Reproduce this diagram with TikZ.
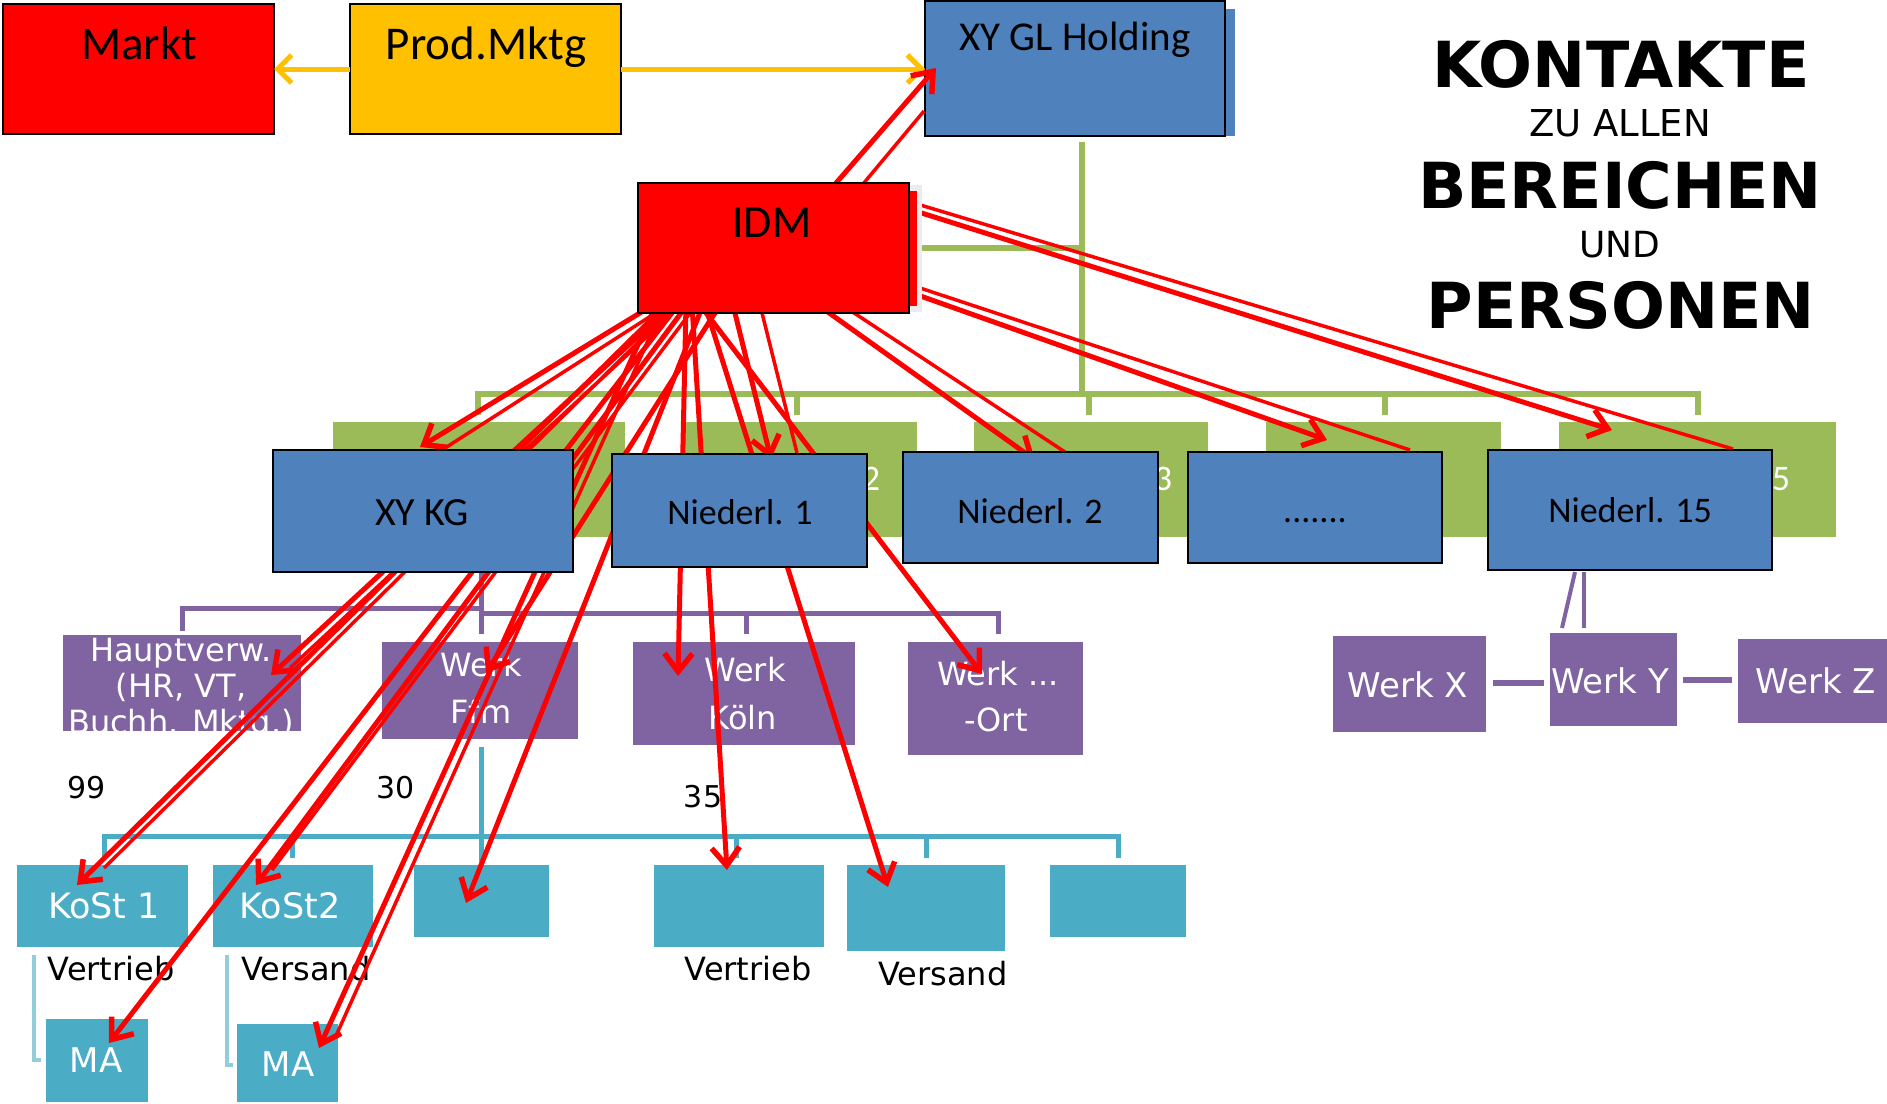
\documentclass[tikz,border=0pt]{standalone}
\usepackage{fontspec}
\setmainfont{Carlito}
\newfontfamily\dvs{DejaVu Sans}
\usetikzlibrary{arrows.meta}
\definecolor{dblue}{HTML}{4F81BD}
\definecolor{dgreen}{HTML}{9BBB59}
\definecolor{dpurple}{HTML}{8064A2}
\definecolor{dteal}{HTML}{4BACC6}
\definecolor{lteal}{HTML}{92CDDC}
\definecolor{dyellow}{HTML}{FFC000}
\newcommand\myfs[1]{\fontsize{#1}{#1}\selectfont}
\tikzset{
  bluebox/.style={draw=black, line width=2pt, fill=dblue, inner sep=0pt, outer sep=0pt},
  redbox/.style={draw=black, line width=2pt, fill=red, inner sep=0pt, outer sep=0pt},
  ybox/.style={draw=black, line width=2pt, fill=dyellow, inner sep=0pt, outer sep=0pt},
  gbox/.style={fill=dgreen, inner sep=0pt, outer sep=0pt},
  pbox/.style={fill=dpurple, inner sep=0pt, outer sep=0pt},
  tbox/.style={fill=dteal, inner sep=0pt, outer sep=0pt},
  lbl/.style={anchor=base, inner sep=0pt, outer sep=0pt},
  btxt/.style={lbl, font=\myfs{36}},
  wtxt/.style={lbl, text=white, font=\dvs\myfs{32}},
  ktxt/.style={lbl, text=black, font=\dvs\myfs{32}},
  ttl/.style={lbl, font=\dvs\bfseries\myfs{63.5}},
  tts/.style={lbl, font=\dvs\myfs{37}},
  gline/.style={draw=dgreen, line width=6pt},
  pline/.style={draw=dpurple, line width=5pt},
  tline/.style={draw=dteal, line width=5pt},
  ltline/.style={draw=lteal, line width=4pt},
  yarrow/.style={draw=dyellow, line width=5pt, -{Straight Barb[length=14pt,width=28pt,line width=5pt]}},
  redarrow/.style={draw=red, line width=5pt, -{Straight Barb[length=18pt,width=28pt,line width=5.5pt]}},
  redshadow/.style={draw=red, line width=3.5pt},
}
\begin{document}
\begin{tikzpicture}[x=1pt,y=-1pt]
\useasboundingbox (0,0) rectangle (1887,1103);
\fill[white] (0,0) rectangle (1887,1103);

% ---------- green structure ----------
\coordinate (gtop) at (1082,142);
\coordinate (gbusr) at (1082,394);
\coordinate (gidm) at (922,248);
\coordinate (gmid) at (1082,248);
\draw[gline] (gtop) -- (gbusr);
\draw[gline] (gidm) -- (gmid);
\coordinate (gb1) at (478,415);
\coordinate (gb5) at (1698,415);
\draw[gline] (gb1) |- (gbusr) -| (gb5);
\foreach \gx in {797,1089,1385}{\draw[gline] (\gx,394) -- (\gx,415);}

\node[gbox, minimum width=292, minimum height=115] (g1) at (479,479.5) {};
\node[gbox, minimum width=234, minimum height=115] (g2) at (800,479.5) {};
\node[gbox, minimum width=234, minimum height=115] (g3) at (1091,479.5) {};
\node[gbox, minimum width=235, minimum height=115] (g4) at (1383.5,479.5) {};
\node[gbox, minimum width=277, minimum height=115] (g5) at (1697.5,479.5) {};
\node[lbl, anchor=base east, text=white, font=\myfs{36}] (g2t) at (880,490) {2};
\node[lbl, anchor=base east, text=white, font=\myfs{36}] (g3t) at (1172,490) {3};
\node[lbl, anchor=base east, text=white, font=\myfs{36}] (g5t) at (1790,490) {5};

% ---------- purple structure ----------
\coordinate (pk) at (481,572);
\draw[pline] (182,631) -- (182,608) -- (481,608);
\draw[pline] (pk) -- (481,634);
\draw[pline] (481,613) -- (998,613) -- (998,634);
\draw[pline] (746,613) -- (746,634);

\node[pbox, minimum width=238, minimum height=96] (hv) at (182,683) {};
\begin{scope}
\clip (63,635) rectangle (301,731);
\node[wtxt] (hv1) at (181,661) {Hauptverw.};
\node[wtxt] (hv2) at (181,697) {(HR, VT,};
\node[wtxt] (hv3) at (181,733) {Buchh. Mktg.)};
\end{scope}
\node[pbox, minimum width=196, minimum height=97] (ffm) at (480,690.5) {};
\node[wtxt] (ffm1) at (481,676) {Werk};
\node[wtxt] (ffm2) at (481,723) {Ffm};
\node[pbox, minimum width=222, minimum height=103] (koeln) at (744,693.5) {};
\node[wtxt] (koeln1) at (745,681) {Werk};
\node[wtxt] (koeln2) at (743,729) {Köln};
\node[pbox, minimum width=175, minimum height=113] (ort) at (995.5,698.5) {};
\node[wtxt] (ort1) at (998,685) {Werk ...};
\node[wtxt] (ort2) at (996,731) {-Ort};

% right purple group
\node[pbox, minimum width=153, minimum height=96] (wx) at (1409.5,684) {};
\node[pbox, minimum width=127, minimum height=93] (wy) at (1613.5,679.5) {};
\node[pbox, minimum width=149, minimum height=84] (wz) at (1812.5,681) {};
\node[wtxt, font=\dvs\myfs{34}] (wxt) at (1408,697) {Werk X};
\node[wtxt, font=\dvs\myfs{34}] (wyt) at (1610,693) {Werk Y};
\node[wtxt, font=\dvs\myfs{34}] (wzt) at (1816,693) {Werk Z};
\draw[pline, line width=6pt] (1493,683) -- (1544,683);
\draw[pline, line width=6pt] (1683,680) -- (1732,680);
\coordinate (n15a) at (1575,572);
\coordinate (n15b) at (1584,572);
\coordinate (wya) at (1562,628);
\coordinate (wyb) at (1584,628);
\draw[pline, line width=4pt] (n15a) -- (wya);
\draw[pline, line width=4pt] (n15b) -- (wyb);

% ---------- teal structure ----------
\draw[tline] (481,747) -- (481,862);
\draw[tline] (104,858) -- (104,836) -- (1118,836) -- (1118,858);
\foreach \tx in {292,736,926}{\draw[tline] (\tx,836) -- (\tx,858);}
\draw[ltline] (34,955) -- (34,1060) -- (41,1060);
\draw[ltline] (227,955) -- (227,1065) -- (233,1065);

\node[tbox, minimum width=171, minimum height=82] (k1) at (102.5,906) {};
\node[tbox, minimum width=160, minimum height=82] (k2) at (293,906) {};
\node[tbox, minimum width=135, minimum height=72] (t3) at (481.5,901) {};
\node[tbox, minimum width=170, minimum height=82] (t4) at (739,906) {};
\node[tbox, minimum width=158, minimum height=86] (t5) at (926,908) {};
\node[tbox, minimum width=136, minimum height=72] (t6) at (1118,901) {};
\node[tbox, minimum width=102, minimum height=83] (ma1) at (97,1060.5) {};
\node[tbox, minimum width=101, minimum height=78] (ma2) at (287.5,1063) {};
\node[wtxt, font=\dvs\myfs{35}] (k1t) at (104,918) {KoSt 1};
\node[wtxt, font=\dvs\myfs{35}] (k2t) at (290,918) {KoSt2};
\node[wtxt, font=\dvs\myfs{34}] (ma1t) at (96,1072) {MA};
\node[wtxt, font=\dvs\myfs{34}] (ma2t) at (288,1076) {MA};

\node[ktxt] (vt1) at (111,980) {Vertrieb};
\node[ktxt] (vs1) at (306,980) {Versand};
\node[ktxt] (vt2) at (748,980) {Vertrieb};
\node[ktxt] (vs2) at (943,985) {Versand};
\node[ktxt, font=\dvs\myfs{30}] (n99) at (87,798) {99};
\node[ktxt, font=\dvs\myfs{30}] (n30) at (396,798) {30};
\node[ktxt, font=\dvs\myfs{30}] (n35) at (703,807) {35};

% ---------- top row ----------
\fill[dblue] (935,9) rectangle (1235,136);
\node[bluebox, minimum width=300, minimum height=135] (gl) at (1075,68.5) {};
\node[lbl, font=\myfs{41}] (glt) at (1075,50) {XY GL Holding};
\node[redbox, minimum width=271, minimum height=130] (markt) at (138.5,69) {};
\node[lbl, font=\myfs{47}] (marktt) at (139,59) {Markt};
\node[ybox, minimum width=271, minimum height=130] (prod) at (485.5,69) {};
\node[lbl, font=\myfs{47}] (prodt) at (486,59) {Prod.Mktg};
\draw[yarrow] (prod.west) -- (markt.east);
\draw[yarrow] (prod.east) -- (prod.east -| gl.west);

% ---------- red arrows ----------
\coordinate (o-gl) at (830,190);   \coordinate (h-gl) at (936,68);
\coordinate (s-gl) at (858,190);   \coordinate (e-gl) at (924,111);
\coordinate (o-n15) at (912,210);  \coordinate (h-n15) at (1612,430);
\coordinate (s-n15) at (917,204);  \coordinate (e-n15) at (1733,449);
\coordinate (o-nd) at (912,293);   \coordinate (h-nd) at (1327,440);
\coordinate (s-nd) at (917,287);   \coordinate (e-nd) at (1410,450);
\coordinate (o-n2) at (818,305);   \coordinate (h-n2) at (1035,460);
\coordinate (s-n2) at (842,305);   \coordinate (e-n2) at (1065,452);
\coordinate (o-n1) at (733,305);   \coordinate (h-n1) at (771,459);
\coordinate (s-n1) at (760,305);   \coordinate (e-n1) at (797,453);
\coordinate (o-ort) at (700,305);  \coordinate (h-ort) at (982,674);
\coordinate (o-koe) at (686,305);  \coordinate (h-koe) at (678,676);
\coordinate (o-t4) at (692,305);   \coordinate (h-t4) at (727,870);
\coordinate (o-t5) at (705,305);   \coordinate (h-t5) at (888,887);
\coordinate (o-kg) at (653,305);   \coordinate (h-kg) at (420,447);
\coordinate (s-kg) at (668,305);   \coordinate (e-kg) at (442,450);
\coordinate (o-hv) at (672,305);   \coordinate (h-hv) at (271,675);
\coordinate (s-hv) at (681,305);   \coordinate (e-hv) at (290,668);
\coordinate (o-k1) at (666,305);   \coordinate (h-k1) at (77,885);
\coordinate (s-k1) at (676,305);   \coordinate (e-k1) at (104,868);
\coordinate (o-m1) at (678,305);   \coordinate (h-m1) at (109,1043);
\coordinate (o-k2) at (687,305);   \coordinate (h-k2) at (256,885);
\coordinate (s-k2) at (696,305);   \coordinate (e-k2) at (272,870);
\coordinate (o-ffm) at (720,305);  \coordinate (h-ffm) at (486,673);
\coordinate (o-m2) at (656,305);   \coordinate (h-m2) at (319,1048);
\coordinate (s-m2) at (664,305);   \coordinate (e-m2) at (335,1038);
\coordinate (o-t3) at (703,305);   \coordinate (h-t3) at (466,903);

\foreach \a in {gl,n15,nd,n2,n1,kg,hv,k1,k2,m2}{\draw[redshadow] (s-\a) -- (e-\a);}
\foreach \a in {gl,n15,nd,n2,n1,ort,koe,t4,t5,kg,hv,k1,m1,k2,ffm,m2,t3}{\draw[redarrow] (o-\a) -- (h-\a);}

% ---------- blue level boxes ----------
\node[bluebox, minimum width=300, minimum height=122] (xykg) at (423,511) {};
\node[lbl, font=\myfs{40}] (xykgt) at (422,525) {XY KG};
\node[bluebox, minimum width=255, minimum height=113] (n1) at (739.5,510.5) {};
\node[btxt] (n1t) at (740,524) {Niederl. 1};
\node[bluebox, minimum width=255, minimum height=111] (n2) at (1030.5,507.5) {};
\node[btxt] (n2t) at (1030,523) {Niederl. 2};
\node[bluebox, minimum width=254, minimum height=111] (nd) at (1315,507.5) {};
\node[btxt] (ndt) at (1315,522) {.......};
\node[bluebox, minimum width=284, minimum height=120] (n15) at (1630,510) {};
\node[btxt] (n15t) at (1630,522) {Niederl. 15};

% ---------- IDM ----------
\fill[gray!15] (645,185) rectangle (922,312);
\fill[red] (645,191) rectangle (917,306);
\node[redbox, minimum width=271, minimum height=130] (idm) at (773.5,248) {};
\node[lbl, font=\myfs{46}] (idmt) at (772,237) {IDM};

% ---------- title ----------
\node[ttl] (t1) at (1621,87) {KONTAKTE};
\node[tts] (t2) at (1620,136) {ZU ALLEN};
\node[ttl] (t3t) at (1620,208) {BEREICHEN};
\node[tts, font=\dvs\myfs{36}] (t4t) at (1620,257) {UND};
\node[ttl] (t5t) at (1621,328) {PERSONEN};
\end{tikzpicture}
\end{document}
